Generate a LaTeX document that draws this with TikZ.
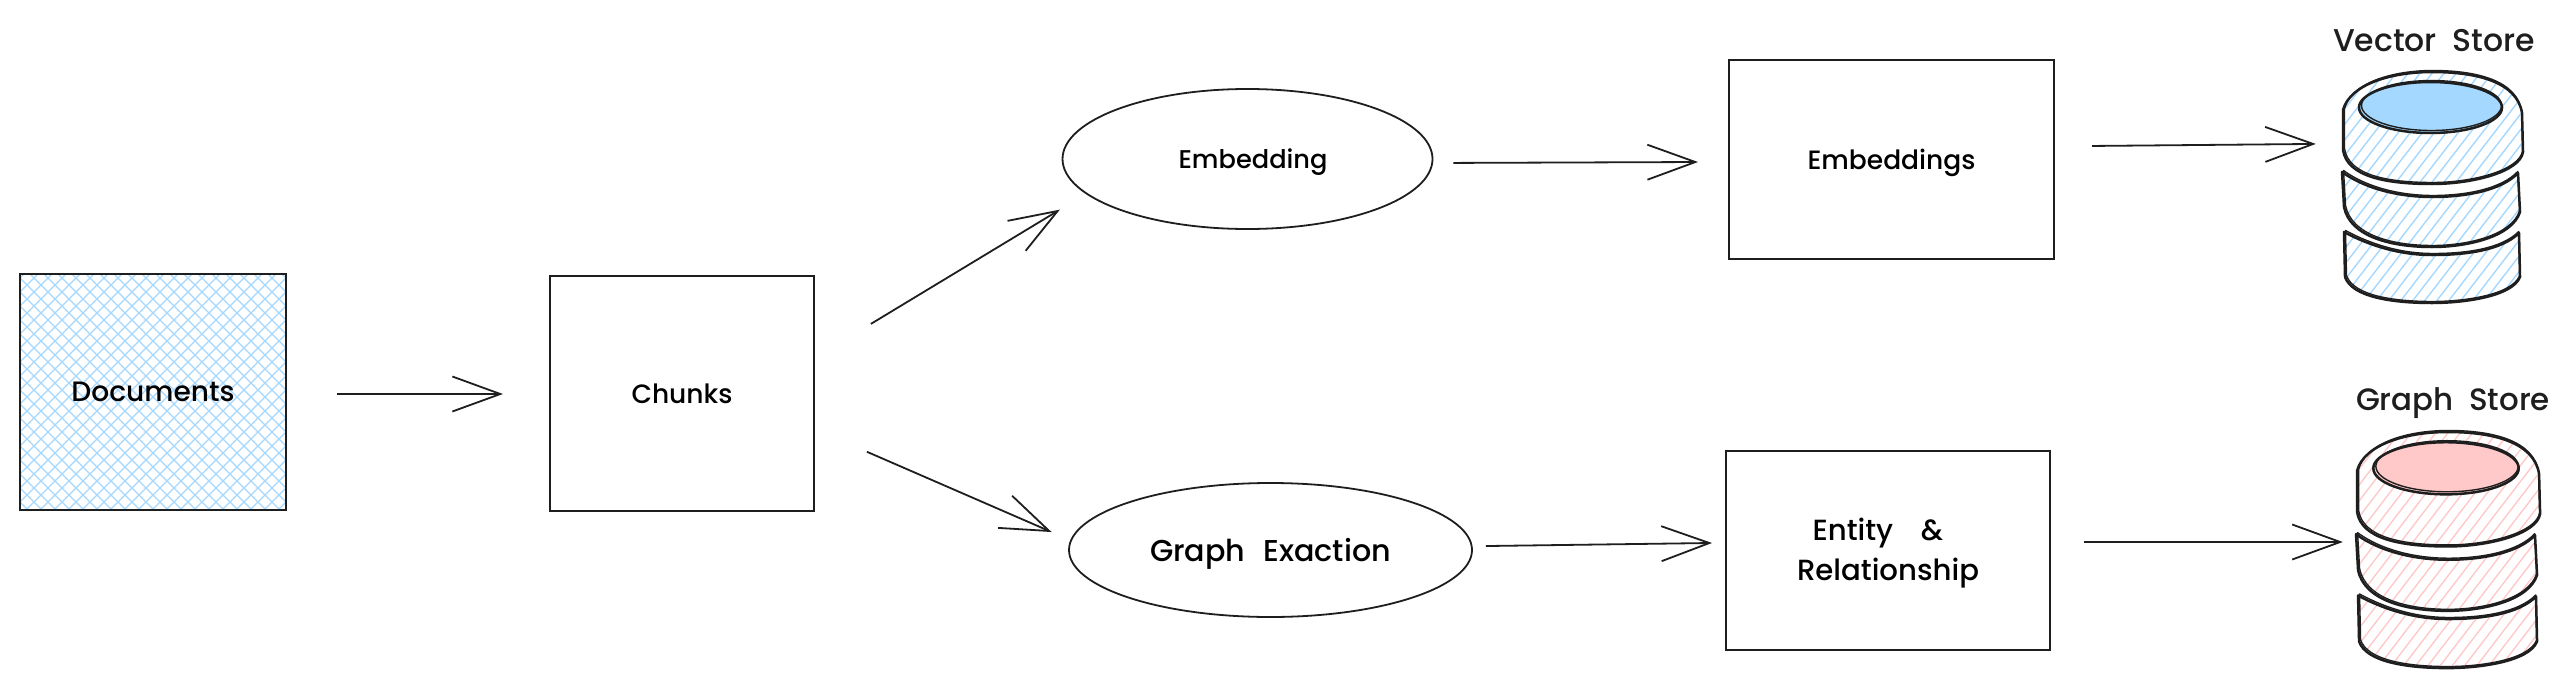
\documentclass[tikz,border=0pt]{standalone}
\usepackage{fontspec}
\setmainfont{Poppins Medium}
\usetikzlibrary{arrows.meta,calc,shapes.geometric}
\definecolor{ink}{HTML}{1E1E1E}
\definecolor{bluefill}{HTML}{A5D8FF}
\definecolor{pinkfill}{HTML}{FFC9C9}
\newcommand{\fitlbl}[2]{\resizebox{#1pt}{!}{#2}}
\newcommand{\lowerlbl}[2]{\raisebox{-#1pt}[\height][\depth]{#2}}
\tikzset{
  boxnode/.style={draw=ink,line width=2pt,rectangle,inner sep=0pt},
  ovalnode/.style={draw=ink,line width=1.8pt,ellipse,inner sep=0pt},
  txt/.style={text=ink,inner sep=0pt},
  flow/.style={draw=ink,line width=1.8pt,-{Straight Barb[length=48pt,width=35pt,line width=1.8pt]}},
  sketch/.style={draw=ink,line width=2.5pt,line join=round},
  sketchthin/.style={draw=ink,line width=1.4pt,line join=round},
  ghost/.style={inner sep=0pt,rectangle}
}
\newcommand{\secA}{(1,38) .. controls (8,12) and (50,0) .. (90,0) .. controls (135,0) and (175,10) .. (180,41) -- (181,80) .. controls (178,100) and (130,112) .. (90,112) .. controls (45,112) and (5,105) .. (1,78) -- cycle}
\newcommand{\secB}{(0,100) .. controls (25,118) and (60,125) .. (90,125) .. controls (125,125) and (160,118) .. (176,101) -- (178,140) .. controls (170,165) and (125,175) .. (90,175) .. controls (50,175) and (8,165) .. (2,135) -- cycle}
\newcommand{\secC}{(2,160) .. controls (30,175) and (60,183) .. (90,183) .. controls (125,183) and (160,178) .. (177,161) -- (178,205) .. controls (170,225) and (120,231) .. (90,231) .. controls (50,231) and (10,225) .. (3,205) -- cycle}
\newcommand{\hatchsec}[2]{\begin{scope}\clip #1;\foreach \hx in {-190,-178,...,190}{\draw[#2,line width=1.4pt] (\hx,240) -- ({\hx+185},0);}\end{scope}}
\newcommand{\dbstack}[6]{%
  \begin{scope}[shift={(#1,#2)},xscale=#3,yscale=#4]
    \hatchsec{\secA}{#5}\hatchsec{\secB}{#5}\hatchsec{\secC}{#5}
    \draw[sketch] \secA; \draw[sketch] \secB; \draw[sketch] \secC;
    \begin{scope}[shift={(1.5,-1.5)},xscale=.99]
      \draw[sketchthin] \secA; \draw[sketchthin] \secB; \draw[sketchthin] \secC;
    \end{scope}
    \draw[sketch,fill=#6] (88.5,35.5) ellipse [x radius=71.5,y radius=25.5];
    \draw[sketchthin] (89.5,33.5) ellipse [x radius=70,y radius=25];
  \end{scope}}
\begin{document}
\begin{tikzpicture}[x=1pt,y=-1pt]
\useasboundingbox (0,0) rectangle (2569,688);
\fill[white] (0,0) rectangle (2569,688);
\begin{scope}
  \clip (20,274) rectangle (286,510);
  \foreach \hx in {-240,-226,...,300}{
    \draw[bluefill,line width=1.2pt] (\hx,510) -- ({\hx+240},270);
    \draw[bluefill,line width=1.2pt] (\hx,270) -- ({\hx+240},510);
  }
\end{scope}
\node[boxnode,minimum width=266pt,minimum height=236pt] (docs) at (153,392) {\fitlbl{163}{Documents}};
\node[boxnode,minimum width=264pt,minimum height=235pt] (chunks) at (682,393.5) {\fitlbl{101}{Chunks}};
\node[ovalnode,minimum width=370pt,minimum height=140pt] (embed) at (1247.5,159) {\hspace*{11pt}\lowerlbl{3.5}{\fitlbl{149}{Embedding}}};
\node[boxnode,minimum width=325pt,minimum height=199pt] (embeds) at (1891.5,159.5) {\lowerlbl{3.5}{\fitlbl{168}{Embeddings}}};
\node[ovalnode,minimum width=403pt,minimum height=134pt] (gx) at (1270.5,550) {\lowerlbl{4}{\resizebox{241pt}{!}{Graph\hspace{.6em}Exaction}}};
\node[boxnode,minimum width=324pt,minimum height=199pt] (entity) at (1888,550.5) {\lowerlbl{3}{\fitlbl{182}{\begin{tabular}{@{}c@{}}Entity\hspace{.95em}\&\hspace*{7pt}\\[1.5pt]Relationship\end{tabular}}}};
\dbstack{2342}{72}{1}{1}{bluefill}{bluefill}
\dbstack{2356}{432}{1.017}{1.022}{pinkfill}{pinkfill}
\node[ghost,minimum width=181pt,minimum height=231pt] (vstore) at (2432.5,187.5) {};
\node[ghost,minimum width=184pt,minimum height=236pt] (gstore) at (2448,550) {};
\node[txt] (vlabel) at (2434,40.5) {\resizebox{202pt}{!}{Vector\hspace{.5em}Store}};
\node[txt] (glabel) at (2453,403.5) {\resizebox{194pt}{!}{Graph\hspace{.5em}Store}};
\draw[flow,shorten <=50pt,shorten >=46pt] ($(docs.east)+(0,2)$) -- ($(chunks.west)+(0,.5)$);
\draw[flow,shorten <=65.3pt,shorten >=2pt] ($(chunks.east)+(0,-35.8)$) -- ($(embed.west)+(0,49.6)$);
\draw[flow,shorten <=56.6pt,shorten >=18pt] ($(chunks.east)+(0,35.7)$) -- ($(gx.west)+(0,-10.8)$);
\draw[flow,shorten <=20pt,shorten >=30pt] ($(embed.east)+(0,4)$) -- ($(embeds.west)+(0,2.4)$);
\draw[flow,shorten <=37pt,shorten >=26pt] ($(embeds.east)+(0,-13.2)$) -- ($(vstore.west)+(0,-43.8)$);
\draw[flow,shorten <=13pt,shorten >=13pt] ($(gx.east)+(0,-3.8)$) -- ($(entity.west)+(0,-7.7)$);
\draw[flow,shorten <=33pt,shorten >=13pt] ($(entity.east)+(0,-8.5)$) -- ($(gstore.west)+(0,-8)$);
\end{tikzpicture}
\end{document}
